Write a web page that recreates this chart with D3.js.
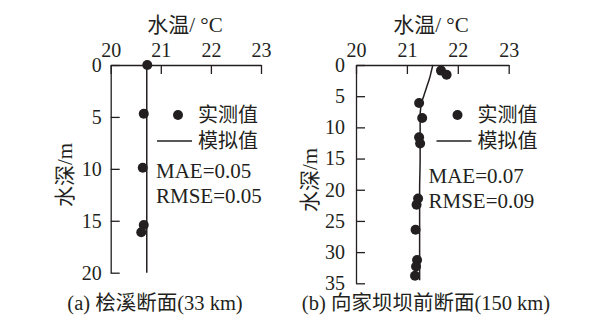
<!DOCTYPE html>
<html>
<head>
<meta charset="utf-8">
<script src="https://cdn.jsdelivr.net/npm/d3@7"></script>
<style>
  html, body { margin: 0; padding: 0; background: #fff; }
  svg { display: block; }
  text { font-family: "Liberation Serif", "Noto Sans CJK SC", serif; fill: #231f20; }
</style>
</head>
<body>
<svg id="chart" width="597" height="334"></svg>
<script>
// Temperature axis ticks (°C) and depth ticks (m)
const tempTicks = [20, 21, 22, 23];
const depthTicksA = [0, 5, 10, 15, 20];
const depthTicksB = [0, 5, 10, 15, 20, 25, 30, 35];

// (a) 桧溪断面 — measured profile
const measDepthA = [0, 4.7, 9.9, 15.4, 16.1];
const measTempA  = [20.73, 20.66, 20.64, 20.66, 20.61];
// (a) simulated profile
const simDepthA = [0, 20];
const simTempA  = [20.72, 20.72];

// (b) 向家坝坝前断面 — measured profile
const measDepthB = [0.9, 1.55, 6.1, 8.5, 11.6, 12.6, 21.4, 22.4, 26.4, 31.25, 32.3, 33.8];
const measTempB  = [21.67, 21.78, 21.24, 21.30, 21.24, 21.26, 21.22, 21.19, 21.17, 21.20, 21.18, 21.16];
// (b) simulated profile
const simDepthB = [0, 1, 2, 3, 4, 5, 6, 7, 8, 10, 15, 20, 25, 30, 34.5];
const simTempB  = [21.51, 21.48, 21.45, 21.41, 21.37, 21.33, 21.29, 21.27, 21.26, 21.26, 21.26, 21.25, 21.25, 21.25, 21.25];

const ink = "#231f20";
const svg = d3.select("#chart");
const intFmt = d3.format("d");

function panel(cfg) {
  const x = d3.scaleLinear().domain([20, 23]).range(cfg.xRange);
  const y = d3.scaleLinear().domain(cfg.yDomain).range(cfg.yRange);
  const g = svg.append("g");

  // top temperature axis, ticks pointing inward
  const xAxis = g.append("g")
    .attr("transform", `translate(0,${cfg.yRange[0]})`)
    .call(d3.axisTop(x).tickValues(tempTicks).tickFormat(intFmt)
      .tickSize(-9).tickSizeOuter(0).tickPadding(8));
  xAxis.selectAll("text").attr("font-size", 20).attr("fill", ink)
    .style("font-family", "'Liberation Serif', serif");

  // left depth axis, ticks pointing inward
  const yAxis = g.append("g")
    .attr("transform", `translate(${cfg.xRange[0]},0)`)
    .call(d3.axisLeft(y).tickValues(cfg.yTicks).tickFormat(intFmt)
      .tickSize(-9).tickSizeOuter(0).tickPadding(cfg.yPad));
  yAxis.selectAll("text").attr("font-size", 20).attr("fill", ink)
    .style("font-family", "'Liberation Serif', serif");

  g.selectAll(".domain, .tick line").attr("stroke", ink).attr("stroke-width", 1.3);

  // axis titles
  g.append("text")
    .attr("x", cfg.titleX).attr("y", 32)
    .attr("text-anchor", "middle").attr("font-size", 21)
    .text("水温/ °C");
  g.append("text")
    .attr("transform", `translate(${cfg.ylabX},${cfg.ylabY}) rotate(-90)`)
    .attr("text-anchor", "middle").attr("dy", "0.35em").attr("font-size", 21)
    .text("水深/m");

  // simulated line
  const line = d3.line()
    .x((d, i) => x(cfg.simT[i]))
    .y(d => y(d))
    .curve(d3.curveMonotoneY);
  g.append("path")
    .datum(cfg.simD)
    .attr("d", line)
    .attr("fill", "none").attr("stroke", ink).attr("stroke-width", 1.5);

  // measured points
  g.selectAll("circle.meas")
    .data(cfg.measD)
    .join("circle")
    .attr("class", "meas")
    .attr("cx", (d, i) => x(cfg.measT[i]))
    .attr("cy", d => y(d))
    .attr("r", 5)
    .attr("fill", ink);

  // legend
  const lg = g.append("g");
  lg.append("circle").attr("cx", cfg.legX + 21).attr("cy", 115).attr("r", 5).attr("fill", ink);
  lg.append("text").attr("x", cfg.legX + 41).attr("y", 115).attr("dy", "0.35em")
    .attr("font-size", 20).text("实测值");
  lg.append("line")
    .attr("x1", cfg.legX).attr("x2", cfg.legX + 35)
    .attr("y1", 141).attr("y2", 141)
    .attr("stroke", ink).attr("stroke-width", 1.5);
  lg.append("text").attr("x", cfg.legX + 41).attr("y", 141).attr("dy", "0.35em")
    .attr("font-size", 20).text("模拟值");

  // error statistics
  g.append("text").attr("x", cfg.statX).attr("y", cfg.statY).attr("dy", "0.35em")
    .attr("font-size", 21).text(cfg.mae);
  g.append("text").attr("x", cfg.statX).attr("y", cfg.statY + 25).attr("dy", "0.35em")
    .attr("font-size", 21).text(cfg.rmse);

  // caption
  g.append("text")
    .attr("x", cfg.capX).attr("y", 303).attr("dy", "0.35em")
    .attr("text-anchor", "middle").attr("font-size", 20.5)
    .text(cfg.caption);
}

panel({
  xRange: [110.7, 261], yRange: [65, 272.7], yDomain: [0, 20], yTicks: depthTicksA, yPad: 9,
  titleX: 185, ylabX: 65, ylabY: 175,
  simD: simDepthA, simT: simTempA, measD: measDepthA, measT: measTempA,
  legX: 157, statX: 156, statY: 171,
  mae: "MAE=0.05", rmse: "RMSE=0.05",
  capX: 155, caption: "(a) 桧溪断面(33 km)"
});

panel({
  xRange: [356, 508.7], yRange: [65, 283.3], yDomain: [0, 35], yTicks: depthTicksB, yPad: 11,
  titleX: 431, ylabX: 310, ylabY: 180,
  simD: simDepthB, simT: simTempB, measD: measDepthB, measT: measTempB,
  legX: 436.5, statX: 428.5, statY: 176,
  mae: "MAE=0.07", rmse: "RMSE=0.09",
  capX: 426, caption: "(b) 向家坝坝前断面(150 km)"
});
</script>
</body>
</html>
